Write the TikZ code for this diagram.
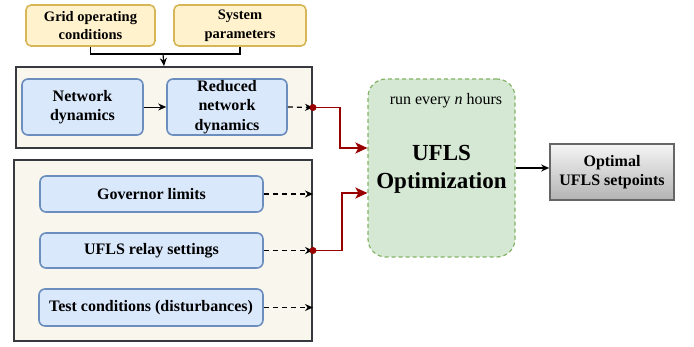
\documentclass[tikz,border=0pt]{standalone}
\usepackage{fontspec}
\setmainfont{Liberation Serif}
\usetikzlibrary{arrows.meta,calc}
\definecolor{ylwfill}{HTML}{FFF2CC}
\definecolor{ylwline}{HTML}{D6B656}
\definecolor{bluefill}{HTML}{DAE8FC}
\definecolor{blueline}{HTML}{6C8EBF}
\definecolor{contfill}{HTML}{F9F7ED}
\definecolor{contline}{HTML}{36393D}
\definecolor{grnfill}{HTML}{D5E8D4}
\definecolor{grnline}{HTML}{82B366}
\definecolor{redline}{HTML}{990000}
\definecolor{grytop}{HTML}{F5F5F5}
\definecolor{grybot}{HTML}{B3B3B3}
\definecolor{gryline}{HTML}{666666}
\tikzset{
  ylwbox/.style={draw=ylwline, fill=ylwfill, line width=1.6pt, rounded corners=5pt, align=center, font=\fontsize{14.5}{18.5}\selectfont\bfseries, inner sep=0pt},
  bluebox/.style={draw=blueline, fill=bluefill, line width=1.6pt, rounded corners=6pt, align=center, font=\fontsize{16}{19.5}\selectfont\bfseries, inner sep=0pt},
  contbox/.style={draw=contline, fill=contfill, line width=2pt, inner sep=0pt},
  optbox/.style={draw=grnline, fill=grnfill, line width=1.2pt, dash pattern=on 4pt off 3pt, rounded corners=18pt, inner sep=0pt},
  outbox/.style={draw=gryline, top color=grytop, bottom color=grybot, line width=1.6pt, align=center, font=\fontsize{16}{19.5}\selectfont\bfseries, inner sep=0pt},
  blk/.style={-{Stealth[length=8pt,width=7pt]}, line width=1.2pt},
  blkdash/.style={-{Stealth[length=8pt,width=7pt]}, line width=1.3pt, dash pattern=on 5pt off 4pt},
  redarrow/.style={-{Stealth[length=12pt,width=11pt,inset=3pt]}, draw=redline, line width=1.8pt},
  reddot/.style={circle, fill=redline, inner sep=0pt, minimum size=7pt},
}
\begin{document}
\begin{tikzpicture}[x=1pt,y=-1pt]
\useasboundingbox (0,0) rectangle (694,347);
% top inputs
\node[ylwbox, minimum width=129pt, minimum height=41pt] (grid) at (90.5,25.5) {Grid operating\\conditions};
\node[ylwbox, minimum width=132pt, minimum height=41pt] (sys) at (240,25.5) {System\\parameters};
% containers
\node[contbox, minimum width=296pt, minimum height=81pt] (topc) at (164,107.5) {};
\node[contbox, minimum width=298pt, minimum height=181pt] (botc) at (163,250.5) {};
% top container content
\node[bluebox, minimum width=121pt, minimum height=56pt] (net) at (82.5,107) {Network\\dynamics};
\node[bluebox, minimum width=120pt, minimum height=56pt] (red) at (227,107) {Reduced\\network\\dynamics};
% bottom container content
\node[bluebox, minimum width=223pt, minimum height=36pt] (gov) at (151.5,194) {Governor limits};
\node[bluebox, minimum width=223pt, minimum height=35pt] (relay) at (151.5,250.5) {UFLS relay settings};
\node[bluebox, minimum width=224pt, minimum height=37pt] (test) at (151,307.5) {Test conditions (disturbances)};
% optimization
\node[optbox, minimum width=147pt, minimum height=178pt] (opt) at (441.5,168) {};
\node[font=\fontsize{16}{18}\selectfont] (runn) at (446,101) {run every \textit{n} hours};
\node[font=\fontsize{23}{28}\selectfont\bfseries, align=center] (optt) at (441.5,169) {UFLS\\Optimization};
% output
\node[outbox, minimum width=124pt, minimum height=56pt] (out) at (612,172) {Optimal\\UFLS setpoints};
% merge of top inputs
\coordinate (mid) at (163,54);
\draw[line width=1.2pt] (grid.south) |- (mid);
\draw[line width=1.2pt] (sys.south) |- (mid);
\draw[blk] (mid) -- (topc.north);
% internal arrows
\draw[blk, line width=0.9pt] (net) -- (red);
\coordinate (p1) at (topc.east);
\coordinate (p2) at (botc.east |- relay);
\coordinate (g2) at (botc.east |- gov);
\coordinate (t2) at (botc.east |- test);
\draw[blkdash] (red.east) -- (p1);
\draw[blkdash] (gov.east) -- (g2);
\draw[blkdash] (relay.east) -- (p2);
\draw[blkdash] (test.east) -- (t2);
% red connectors
\coordinate (in1) at (opt.west |- 0,148);
\coordinate (in2) at (opt.west |- 0,193);
\draw[redarrow] (p1) -| (340,148) -- (in1);
\draw[redarrow] (p2) -| (342,193) -- (in2);
\node[reddot] (d1) at (p1) {};
\node[reddot] (d2) at (p2) {};
% output arrow
\draw[blk, line width=1.4pt] (opt.east) -- (opt.east -| out.west);
\end{tikzpicture}
\end{document}
